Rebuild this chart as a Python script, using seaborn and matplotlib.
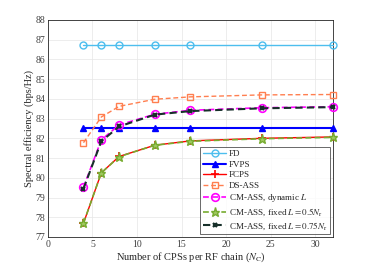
import matplotlib
matplotlib.use("Agg")
import matplotlib.pyplot as plt
import seaborn as sns
import pandas as pd

x = [4, 6, 8, 12, 16, 24, 32]
fd = [86.72, 86.72, 86.72, 86.72, 86.72, 86.72, 86.72]
fvps = [82.52, 82.52, 82.52, 82.52, 82.52, 82.52, 82.52]
fcps = [77.70, 80.25, 81.08, 81.65, 81.87, 82.00, 82.07]
ds_ass = [81.78, 83.08, 83.62, 83.98, 84.10, 84.20, 84.22]
cm_dyn = [79.52, 81.92, 82.68, 83.22, 83.42, 83.55, 83.60]
cm_05 = [77.70, 80.25, 81.07, 81.65, 81.85, 81.98, 82.05]
cm_075 = [79.45, 81.85, 82.60, 83.20, 83.38, 83.52, 83.58]

labels = ["FD", "FVPS", "FCPS", "DS-ASS", "CM-ASS, dynamic $L$",
          "CM-ASS, fixed $L=0.5N_\\mathrm{r}$", "CM-ASS, fixed $L=0.75N_\\mathrm{r}$"]
series = [fd, fvps, fcps, ds_ass, cm_dyn, cm_05, cm_075]

sns.set_theme(style="whitegrid")
plt.rcParams['font.family'] = ['Liberation Serif', 'DejaVu Serif']
plt.rcParams['mathtext.fontset'] = 'stix'

styles = [
    dict(color="#4DBEEE", marker="o", ls="-", ms=5, mfc="none", mew=1.0, lw=1.0),
    dict(color="#0000FF", marker="^", ls="-", ms=4.5, mfc="#0000FF", mew=1.0, lw=1.5),
    dict(color="#FF0000", marker="+", ls="-", ms=6, mfc="none", mew=1.2, lw=1.0),
    dict(color="#FF7F50", marker="s", ls=(0, (3.5, 2)), ms=4.5, mfc="none", mew=1.0, lw=1.0),
    dict(color="#FF00FF", marker="o", ls=(0, (3.5, 2)), ms=5.5, mfc="none", mew=1.2, lw=1.2),
    dict(color="#77AC30", marker="*", ls=(0, (3.5, 2)), ms=6.5, mfc="#A0C860", mew=1.0, lw=1.2),
    dict(color="#17302A", marker="x", ls=(0, (3.5, 2)), ms=3.5, mfc="none", mew=1.6, lw=1.5),
]

fig = plt.figure(figsize=(3.68, 2.69), dpi=100)
ax = fig.add_axes([0.130, 0.119, 0.775, 0.807])

for lab, y, st in zip(labels, series, styles):
    df = pd.DataFrame({"x": x, "y": y})
    sns.lineplot(data=df, x="x", y="y", ax=ax, label=lab, color=st["color"],
                 marker=st["marker"], linestyle=st["ls"], markersize=st["ms"],
                 markerfacecolor=st["mfc"], markeredgecolor=st["color"],
                 markeredgewidth=st["mew"], linewidth=st["lw"], dashes=False,
                 clip_on=False, zorder=3)

ax.set_xlim(0, 32)
ax.set_ylim(77, 88)
ax.set_xticks([0, 5, 10, 15, 20, 25, 30])
ax.set_yticks(list(range(77, 89)))
ax.tick_params(labelsize=7, direction="in", length=2, width=0.5, colors="#404040", pad=2)
ax.set_xlabel("Number of CPSs per RF chain ($N_\\mathrm{C}$)", fontsize=7.5, labelpad=1, color="#262626")
ax.set_ylabel("Spectral efficiency (bps/Hz)", fontsize=7.5, labelpad=1, color="#262626")
ax.grid(True, color="#E6E6E6", linewidth=0.5)
for s in ax.spines.values():
    s.set_color("#262626")
    s.set_linewidth(0.6)
ax.set_facecolor("white")

leg = ax.legend(loc="lower right", fontsize=6.5, frameon=True, fancybox=False,
                edgecolor="#262626", handlelength=2.6, borderpad=0.3,
                labelspacing=0.25, handletextpad=0.3, borderaxespad=0.3)
leg.get_frame().set_linewidth(0.6)
leg.set_zorder(5)

fig.savefig("out.png", dpi=100, facecolor="white")
